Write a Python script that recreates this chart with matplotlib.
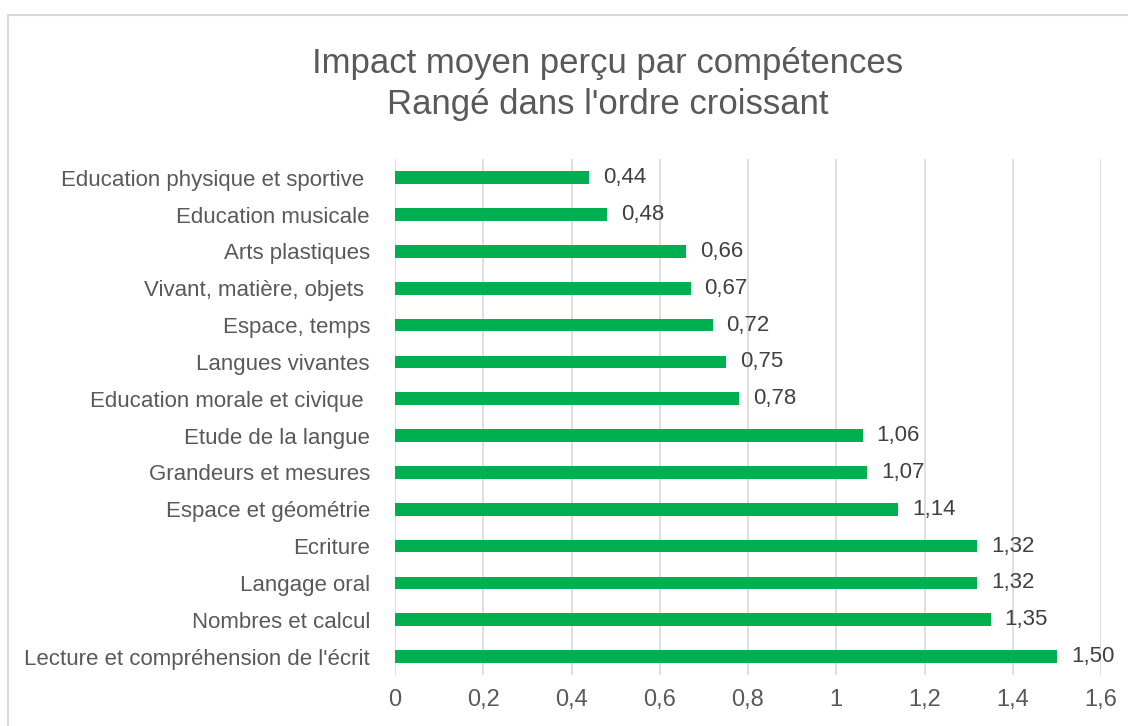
import matplotlib.pyplot as plt
from matplotlib.patches import Rectangle
from matplotlib.ticker import FuncFormatter

categories = [
    "Education physique et sportive ",
    "Education musicale",
    "Arts plastiques",
    "Vivant, matière, objets ",
    "Espace, temps",
    "Langues vivantes",
    "Education morale et civique ",
    "Etude de la langue",
    "Grandeurs et mesures",
    "Espace et géométrie",
    "Ecriture",
    "Langage oral",
    "Nombres et calcul",
    "Lecture et compréhension de l'écrit",
]
values = [0.44, 0.48, 0.66, 0.67, 0.72, 0.75, 0.78,
          1.06, 1.07, 1.14, 1.32, 1.32, 1.35, 1.50]
xticks = [0, 0.2, 0.4, 0.6, 0.8, 1.0, 1.2, 1.4, 1.6]
title = "Impact moyen perçu par compétences\nRangé dans l'ordre croissant"

txt = "#595959"
green = "#00B050"
grid = "#D9D9D9"

plt.rcParams["font.family"] = ["Liberation Sans", "DejaVu Sans"]

W, H = 1128, 726
fig = plt.figure(figsize=(W / 100, H / 100), dpi=100)
fig.patch.set_facecolor("white")

# chart border (cropped on right and bottom in the reference)
fig.patches.append(Rectangle((8 / W, -0.1), 1.2, 1 - 15 / H + 0.1,
                             transform=fig.transFigure, fill=False,
                             edgecolor=grid, linewidth=1.5))

ax = fig.add_axes([395 / W, 1 - 675 / H, (1101 - 395) / W, (675 - 159.3) / H])
ypos = list(range(len(categories)))
bars = ax.barh(ypos, values, height=0.345, color=green, zorder=3)
ax.set_ylim(len(categories) - 0.5, -0.5)
ax.set_xlim(0, 1.6)
ax.set_yticks(ypos)
ax.set_yticklabels(categories, fontsize=16, color=txt)
ax.set_xticks(xticks)
ax.xaxis.set_major_formatter(FuncFormatter(
    lambda v, p: ("%g" % round(v, 1)).replace(".", ",")))
ax.tick_params(axis="x", labelsize=17, labelcolor=txt, length=0, pad=10)
ax.tick_params(axis="y", length=0, pad=18)
ax.grid(axis="x", color=grid, linewidth=1.2, zorder=0)
for s in ax.spines.values():
    s.set_visible(False)

ax.bar_label(bars, labels=[("%.2f" % v).replace(".", ",") for v in values],
             padding=10, fontsize=16, color="#404040")

fig.text((317 + 899) / 2 / W, 1 - 84 / H, title, ha="center", va="center",
         fontsize=25, color=txt, linespacing=1.3)

fig.savefig("out.png", dpi=100)
